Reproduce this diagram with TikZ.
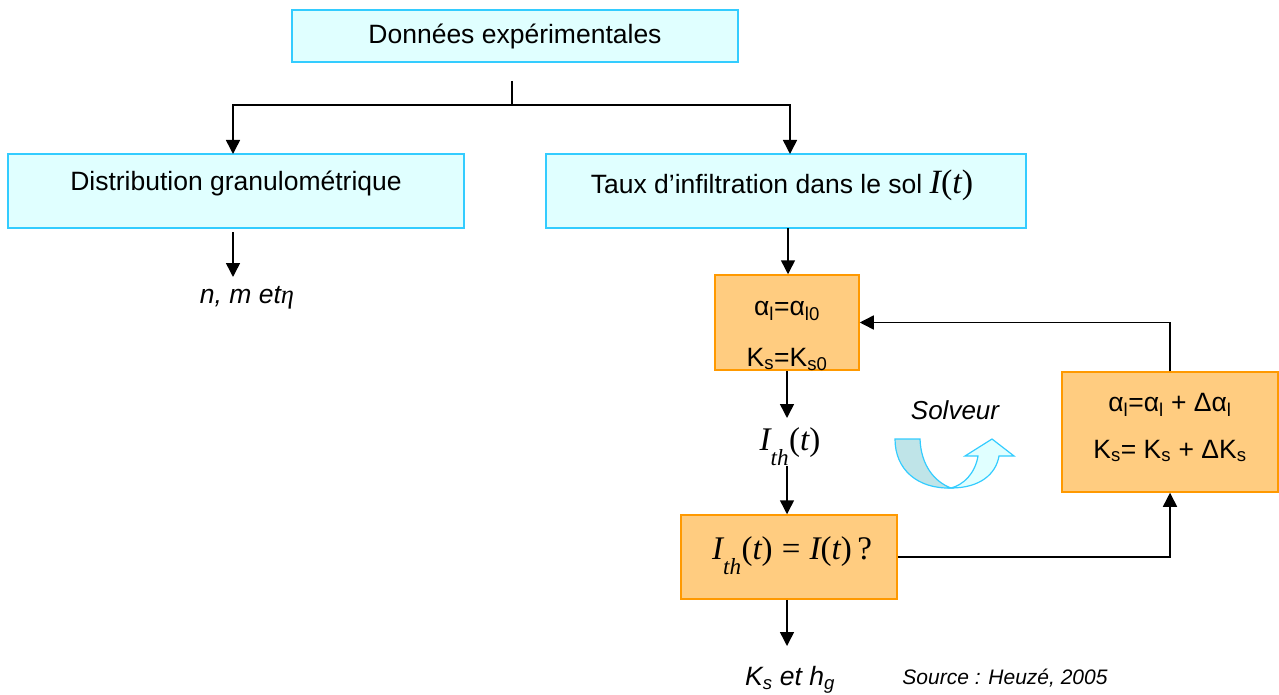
\documentclass[tikz,border=0pt]{standalone}
\usepackage{fontspec}
\setmainfont{Liberation Sans}
\newfontfamily\tms{Liberation Serif}
\usetikzlibrary{arrows.meta}
\definecolor{boxcyan}{HTML}{E0FFFF}
\definecolor{edgecyan}{HTML}{33CCFF}
\definecolor{boxorange}{HTML}{FFCC80}
\definecolor{edgeorange}{HTML}{FF9900}
\definecolor{bandcyan}{HTML}{BFE4E8}
\newcommand{\tmi}[1]{{\tms\itshape #1}}
\newcommand{\tmu}[1]{{\tms #1}}
\newcommand{\lsub}[1]{\raisebox{-0.45ex}{\textsubscript{#1}}}
\newcommand{\Ith}{\tmi{I}\lsub{\tmi{th}}\tmu{(}\tmi{t}\tmu{)}}
\tikzset{
  bluebox/.style={draw=edgecyan, fill=boxcyan, line width=1.5pt, inner sep=0pt},
  orangebox/.style={draw=edgeorange, fill=boxorange, line width=1.5pt, inner sep=0pt},
  txt/.style={inner sep=0pt, font=\fontsize{26.5}{31}\selectfont},
  arr/.style={line width=1.5pt, -{Triangle[length=14pt,width=14pt]}},
  lin/.style={line width=1.5pt}
}
\begin{document}
\begin{tikzpicture}[x=1pt,y=-1pt]
  \useasboundingbox (0,0) rectangle (1279,695);
  % boxes
  \node[bluebox, minimum width=446pt, minimum height=52pt] (donnees) at (515,36) {};
  \node[txt] (donneesT) at (515,36) {Données expérimentales};
  \node[bluebox, minimum width=456pt, minimum height=74pt] (distrib) at (236,191) {};
  \node[txt] (distribT) at (236,183) {Distribution granulométrique};
  \node[bluebox, minimum width=480pt, minimum height=74pt] (taux) at (786,191) {};
  \node[txt] (tauxT) at (782,185) {Taux d’infiltration dans le sol {\fontsize{34}{38}\selectfont\tmi{I}\tmu{(}\tmi{t}\tmu{)}}};
  \node[orangebox, minimum width=144pt, minimum height=95pt] (init) at (787,322.5) {};
  \begin{scope}
    \clip (init.south west) rectangle (init.north east);
    \node[txt] (initA) at (787,311) {α\textsubscript{l}=α\textsubscript{l0}};
    \node[txt, anchor=base] (initK) at (787,366) {K\textsubscript{s}=K\textsubscript{s0}};
  \end{scope}
  \node[txt, font=\fontsize{33}{38}\selectfont] (ith) at (790,447) {\Ith};
  \node[orangebox, minimum width=216pt, minimum height=84pt] (test) at (789,557) {};
  \node[txt, font=\fontsize{33}{38}\selectfont] (testT) at (792,556) {\Ith\ \tmu{=} \tmi{I}\tmu{(}\tmi{t}\tmu{)}\,\tmu{?}};
  \node[orangebox, minimum width=216pt, minimum height=120pt] (maj) at (1170,432) {};
  \node[txt] (majA) at (1170,405) {α\textsubscript{l}=α\textsubscript{l} + Δα\textsubscript{l}};
  \node[txt] (majK) at (1170,451) {K\textsubscript{s}= K\textsubscript{s} + ΔK\textsubscript{s}};
  % results
  \node[txt, font=\fontsize{26.5}{31}\selectfont\itshape] (nmeta) at (247,298) {n, m et\tmi{η}};
  \node[txt, font=\fontsize{26.5}{31}\selectfont\itshape] (kshg) at (790,680) {K\textsubscript{s} et h\textsubscript{g}};
  \node[txt, font=\fontsize{26}{31}\selectfont\itshape] (solveur) at (955,410) {Solveur};
  \node[txt, font=\fontsize{21}{25}\selectfont\itshape] (source) at (1005,678) {Source : Heuzé, 2005};
  % connectors
  \coordinate (stem) at (512,81);
  \coordinate (split) at (512,105);
  \coordinate (distribN) at (233,154);
  \coordinate (tauxN) at (790,154);
  \coordinate (distribS) at (233,232);
  \coordinate (tauxS) at (788,228);
  \draw[lin] (stem) -- (split);
  \draw[arr] (split) -| (distribN);
  \draw[arr] (split) -| (tauxN);
  \draw[arr] (distribS) -- (233,277);
  \draw[arr] (tauxS) -- (init.north -| tauxS);
  \draw[arr] (init.south) -- (787,418);
  \draw[arr] (787,466) -- (test.north -| init.south);
  \draw[arr] (test.south -| init.south) -- (787,646);
  \draw[arr] (test.east) -| (maj.south);
  \draw[arr] (maj.north) |- (init.east);
  % solver sign
  \draw[edgecyan, line width=1.2pt, fill=boxcyan]
    (951,488) .. controls (980,488) and (996,474) .. (999,456) -- (1014,456) -- (992,439)
    -- (965,456) -- (978,456) .. controls (975,474) and (963,485) .. (951,488) -- cycle;
  \draw[edgecyan, line width=1.2pt, fill=bandcyan]
    (895,439) -- (920,439) .. controls (921,466) and (935,482) .. (951,488)
    .. controls (918,489) and (895,470) .. (895,439) -- cycle;
\end{tikzpicture}
\end{document}
